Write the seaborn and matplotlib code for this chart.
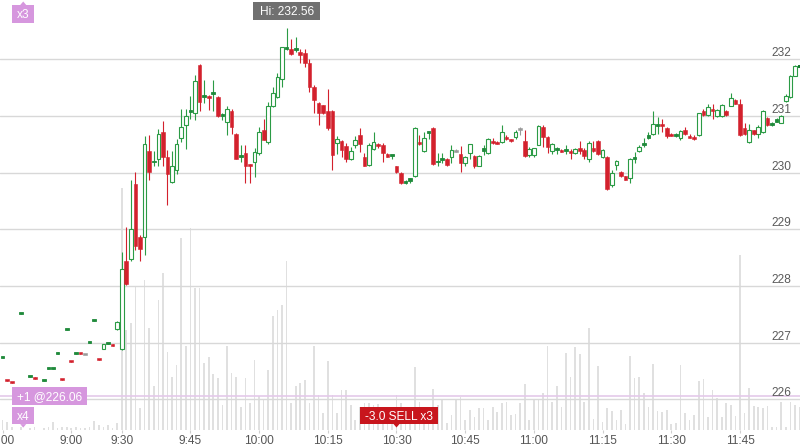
import matplotlib
matplotlib.use("Agg")
import matplotlib.pyplot as plt
import matplotlib.transforms as mtransforms
from matplotlib.patches import Rectangle, Polygon
import numpy as np
import pandas as pd
import seaborn as sns

# --- Data ---
# one slot per 1-minute bar; pre-market bars are sparse, 9:30 open is slot 0
bar_index = [-26, -25, -24, -22, -20, -19, -17, -16, -15, -14, -13, -12, -11,
             -10, -9, -8, -7, -6, -5, -4, -3, -2, -1] + list(range(0, 149))

opens = [226.74, 226.35, 226.31, 227.50, 226.39, 226.39, 226.32, 226.53, 226.53, 226.81, 226.37, 227.23, 226.68,
         226.80, 226.82, 226.81, 226.99, 227.39, 226.72, 226.89, 226.98, 226.97, 227.24,
         226.89, 228.45, 228.47, 229.80, 228.87, 228.86, 230.39, 230.18, 230.25, 230.72,
         230.28, 229.83, 230.05, 230.61, 230.84, 231.07, 231.06, 231.90, 231.33, 231.36,
         231.39, 231.33, 231.00, 230.90, 231.09, 230.69, 230.27, 230.34, 230.14, 230.19,
         230.35, 230.75, 230.55, 231.18, 231.34, 231.65, 232.18, 232.19, 232.17, 232.13,
         232.11, 231.93, 231.52, 231.23, 231.19, 231.09, 231.09, 230.52, 230.56, 230.47,
         230.24, 230.49, 230.66, 230.27, 230.14, 230.41, 230.51, 230.49, 230.33, 230.30,
         230.12, 230.00, 229.82, 229.86, 229.94, 230.52, 230.38, 230.70, 230.78, 230.18,
         230.23, 230.24, 230.27, 230.39, 230.33, 230.17, 230.34, 230.30, 230.12, 230.39,
         230.34, 230.56, 230.55, 230.55, 230.62, 230.59, 230.63, 230.77, 230.56, 230.31,
         230.31, 230.49, 230.81, 230.63, 230.38, 230.40, 230.40, 230.38, 230.37, 230.35,
         230.43, 230.40, 230.25, 230.43, 230.56, 230.27, 230.28, 229.78, 230.14, 230.02,
         229.94, 229.90, 230.24, 230.39, 230.49, 230.62, 230.68, 230.83, 230.86, 230.78,
         230.69, 230.65, 230.62, 230.75, 230.65, 230.62, 230.66, 231.08, 231.01, 231.11,
         231.00, 231.00, 231.08, 231.18, 231.29, 231.22, 230.78, 230.55, 230.75, 230.68,
         230.71, 230.96, 230.84, 230.90, 230.88, 231.27, 231.34, 231.71, 231.86]

highs = [226.75, 226.35, 226.31, 227.52, 226.41, 226.39, 226.34, 226.55, 226.55, 226.83, 226.37, 227.25, 226.68,
         226.82, 226.82, 226.81, 227.01, 227.41, 226.72, 226.97, 227.00, 226.97, 227.38,
         228.61, 229.04, 229.88, 230.01, 228.90, 230.65, 230.66, 230.39, 230.77, 230.92,
         230.40, 230.39, 230.59, 231.12, 231.12, 231.35, 231.72, 231.92, 231.63, 231.37,
         231.63, 231.35, 231.05, 231.18, 231.12, 230.70, 230.49, 230.49, 230.16, 230.43,
         230.81, 230.94, 231.25, 231.52, 231.75, 232.22, 232.56, 232.35, 232.40, 232.18,
         232.18, 232.00, 231.55, 231.25, 231.20, 231.47, 231.10, 230.65, 230.58, 230.53,
         230.45, 230.65, 230.78, 230.35, 230.52, 230.71, 230.53, 230.53, 230.34, 230.32,
         230.12, 230.01, 229.87, 229.91, 230.80, 230.67, 230.71, 230.72, 230.81, 230.34,
         230.34, 230.26, 230.49, 230.41, 230.47, 230.29, 230.50, 230.31, 230.31, 230.49,
         230.61, 230.62, 230.56, 230.85, 230.67, 230.60, 230.75, 230.80, 230.75, 230.45,
         230.43, 230.84, 230.84, 230.65, 230.52, 230.46, 230.41, 230.48, 230.42, 230.43,
         230.56, 230.43, 230.56, 230.56, 230.58, 230.41, 230.29, 230.05, 230.23, 230.03,
         229.95, 230.26, 230.36, 230.48, 230.62, 230.71, 231.08, 230.98, 230.95, 230.80,
         230.70, 230.70, 230.75, 230.80, 230.69, 230.66, 231.06, 231.12, 231.22, 231.22,
         231.12, 231.22, 231.10, 231.41, 231.30, 231.30, 230.88, 230.86, 230.76, 230.84,
         231.10, 230.99, 230.89, 230.96, 231.02, 231.38, 231.72, 231.90, 231.92]

lows = [226.74, 226.33, 226.29, 227.50, 226.39, 226.37, 226.32, 226.53, 226.53, 226.81, 226.35, 227.23, 226.66,
        226.80, 226.80, 226.81, 226.99, 227.39, 226.70, 226.89, 226.98, 226.95, 227.23,
        226.88, 228.02, 228.45, 228.64, 228.45, 228.55, 229.88, 230.11, 230.11, 230.11,
        229.43, 229.81, 229.97, 230.55, 230.41, 230.94, 230.93, 231.09, 231.23, 231.11,
        231.09, 230.99, 230.93, 230.66, 230.69, 230.24, 230.19, 229.81, 229.82, 229.93,
        230.31, 230.57, 230.51, 231.16, 231.31, 231.52, 232.16, 232.08, 232.13, 231.93,
        231.86, 231.43, 231.05, 230.84, 231.03, 230.75, 230.05, 230.33, 230.27, 230.19,
        230.23, 230.43, 230.37, 230.11, 230.11, 230.40, 230.43, 230.19, 230.27, 230.25,
        229.99, 229.80, 229.80, 229.81, 229.93, 230.49, 230.37, 230.59, 230.13, 230.11,
        230.17, 230.12, 230.17, 230.37, 230.02, 230.11, 230.24, 230.08, 230.11, 230.31,
        230.33, 230.50, 230.50, 230.53, 230.57, 230.55, 230.60, 230.66, 230.28, 230.28,
        230.28, 230.48, 230.46, 230.35, 230.33, 230.33, 230.36, 230.33, 230.24, 230.33,
        230.33, 230.24, 230.19, 230.37, 230.31, 230.26, 229.70, 229.75, 230.04, 229.93,
        229.87, 229.81, 230.17, 230.37, 230.46, 230.60, 230.66, 230.68, 230.72, 230.62,
        230.64, 230.63, 230.58, 230.66, 230.61, 230.58, 230.64, 231.00, 231.00, 230.95,
        230.99, 230.99, 231.00, 231.17, 231.21, 230.64, 230.66, 230.53, 230.66, 230.62,
        230.70, 230.82, 230.82, 230.89, 230.87, 231.25, 231.32, 231.70, 231.85]

closes = [226.76, 226.33, 226.29, 227.52, 226.41, 226.37, 226.34, 226.55, 226.55, 226.83, 226.35, 227.25, 226.66,
          226.82, 226.80, 226.81, 227.01, 227.41, 226.70, 226.97, 227.00, 226.95, 227.36,
          228.31, 228.04, 229.01, 228.71, 228.66, 230.50, 230.02, 230.20, 230.69, 230.27,
          229.98, 230.11, 230.50, 230.81, 231.00, 231.09, 231.62, 231.25, 231.35, 231.32,
          231.41, 231.00, 231.04, 231.12, 230.80, 230.25, 230.29, 230.11, 230.12, 230.36,
          230.71, 230.58, 231.18, 231.40, 231.69, 232.21, 232.20, 232.09, 232.19, 232.08,
          231.93, 231.52, 231.28, 231.05, 231.05, 230.78, 230.31, 230.60, 230.40, 230.24,
          230.38, 230.58, 230.50, 230.12, 230.49, 230.55, 230.47, 230.34, 230.28, 230.32,
          230.02, 229.81, 229.86, 229.90, 230.79, 230.50, 230.62, 230.71, 230.15, 230.20,
          230.25, 230.13, 230.40, 230.39, 230.17, 230.28, 230.50, 230.11, 230.29, 230.43,
          230.59, 230.52, 230.51, 230.72, 230.59, 230.56, 230.72, 230.77, 230.29, 230.41,
          230.43, 230.82, 230.63, 230.46, 230.50, 230.44, 230.37, 230.42, 230.34, 230.41,
          230.38, 230.29, 230.53, 230.38, 230.33, 230.40, 229.72, 230.00, 230.21, 229.94,
          229.88, 230.24, 230.27, 230.46, 230.52, 230.66, 230.86, 230.86, 230.83, 230.65,
          230.65, 230.69, 230.74, 230.69, 230.62, 230.59, 231.05, 231.01, 231.16, 231.08,
          231.11, 231.19, 231.02, 231.32, 231.22, 230.66, 230.68, 230.76, 230.69, 230.80,
          231.09, 230.84, 230.86, 230.94, 231.00, 231.35, 231.71, 231.88, 231.90]

volume_k = [10, 8, 3, 3, 2, 3, 2, 3, 8, 2, 3, 3, 2, 3, 2, 2, 3, 9, 5, 3, 5, 2, 7,
            242, 100, 107, 143, 22, 150, 102, 44, 130, 157, 78, 53, 65, 192, 84, 202,
            142, 142, 67, 73, 56, 52, 25, 84, 57, 53, 23, 52, 27, 70, 34, 30, 60, 114,
            120, 125, 169, 27, 44, 47, 50, 27, 84, 35, 17, 69, 35, 17, 40, 40, 25, 10,
            23, 27, 27, 25, 26, 10, 10, 23, 35, 27, 10, 23, 63, 28, 18, 10, 41, 25, 30,
            7, 15, 30, 33, 10, 20, 13, 22, 22, 10, 23, 18, 27, 28, 15, 16, 27, 46, 10,
            30, 30, 37, 84, 28, 44, 23, 77, 53, 83, 76, 28, 102, 11, 64, 8, 22, 19, 10,
            20, 6, 74, 52, 53, 37, 23, 66, 19, 18, 20, 6, 7, 65, 17, 10, 15, 49, 51, 13,
            40, 32, 13, 27, 25, 14, 175, 17, 42, 24, 23, 22, 24, 3, 3, 28, 3, 28, 25, 23]

price_ticks = [226, 227, 228, 229, 230, 231, 232]
time_tick_index = [-26, -11, 0, 15, 30, 45, 60, 75, 90, 105, 120, 135]
time_tick_labels = ["8:00", "9:00", "9:30", "9:45", "10:00", "10:15", "10:30",
                    "10:45", "11:00", "11:15", "11:30", "11:45"]

position_price = 226.06
session_high = 232.56

# --- Style ---
GREEN = "#2b9b45"
GREEN_DARK = "#1f8a3b"
RED = "#d3212d"
FLAT = "#9a9a9a"
LIVE = "#137a2e"
TAG_PURPLE = "#d697de"
TAG_RED = "#c8161d"
TAG_GRAY = "#707070"
W, H = 800, 447

sns.set_theme(style="white")
plt.rcParams["font.family"] = ["Liberation Sans", "DejaVu Sans"]
FS = 8.6

df = pd.DataFrame({"idx": bar_index, "open": opens, "high": highs,
                   "low": lows, "close": closes, "volume": volume_k})

fig = plt.figure(figsize=(W / 100, H / 100), dpi=100)
fig.patch.set_facecolor("white")
axv = fig.add_axes([0, 17 / H, 1, 430 / H])

# volume bars (behind the candles)
sns.barplot(data=df, x="idx", y="volume", native_scale=True, width=0.36,
            color="#e0e0e0", saturation=1, linewidth=0, errorbar=None, ax=axv)
axv.set_ylim(0, 430)

# price axis on top
axp = axv.twinx()
for v in price_ticks:
    axp.axhline(v, color="#d8d8d8", lw=1.0, zorder=0)
axp.axhline(position_price, color="#e4c9ea", lw=1.2, zorder=0.5)

up = df["close"] > df["open"]
down = df["close"] < df["open"]
flat = ~(up | down)
wick_colors = np.where(up, GREEN, np.where(down, RED, FLAT))
axp.vlines(df["idx"], df["low"], df["high"], colors=wick_colors, lw=0.8, zorder=2)

MIN_BODY = 0.035
raw_height = (df["close"] - df["open"]).abs()
body_bottom = df[["open", "close"]].min(axis=1)
body_height = raw_height.clip(lower=MIN_BODY)
# tiny up-bars read as solid dashes, larger ones are hollow
tiny_up = up & (raw_height < 0.05)
big_up = up & ~tiny_up
axp.bar(df["idx"][big_up], body_height[big_up], bottom=body_bottom[big_up], width=0.8,
        facecolor="white", edgecolor=GREEN, linewidth=0.8, zorder=3)
axp.bar(df["idx"][tiny_up], body_height[tiny_up], bottom=body_bottom[tiny_up], width=0.8,
        facecolor=GREEN_DARK, edgecolor=GREEN_DARK, linewidth=0.6, zorder=3)
axp.bar(df["idx"][down], body_height[down], bottom=body_bottom[down], width=0.8,
        facecolor=RED, edgecolor=RED, linewidth=0.4, zorder=3)
axp.bar(df["idx"][flat], body_height[flat], bottom=body_bottom[flat] - MIN_BODY / 2,
        width=0.8, facecolor=FLAT, edgecolor=FLAT, linewidth=0.4, zorder=3)
last = df.iloc[-1]
axp.bar([last["idx"]], [max(last["close"] - last["open"], MIN_BODY)], bottom=[last["open"]],
        width=0.8, facecolor=LIVE, edgecolor=LIVE, linewidth=0.6, zorder=4)

axv.set_xlim(-26.57, 148.1)
axp.set_ylim(225.462, 233.046)

# axes cosmetics
for a in (axv, axp):
    for s in a.spines.values():
        s.set_visible(False)
    a.set_yticks([])
    a.set_ylabel("")
axv.set_xlabel("")
axv.set_xticks(time_tick_index)
axv.set_xticklabels(time_tick_labels)
axv.tick_params(axis="x", bottom=True, length=2, width=0.8, color="#cfcfcf",
                pad=1.6, labelsize=FS, labelcolor="#555555")

# price labels sit just above their gridlines, at the right edge
lab_trans = mtransforms.offset_copy(
    mtransforms.blended_transform_factory(axp.transAxes, axp.transData),
    fig=fig, y=3.2, units="dots")
for v in price_ticks:
    axp.text(791.5 / W, v, f"{v}", transform=lab_trans, ha="right", va="baseline",
             fontsize=FS, color="#5a5a5a", zorder=5)

# --- tags, laid out in pixels ---
pix = mtransforms.Affine2D().scale(1 / W, 1 / H) + fig.transFigure


def px_of(i):
    return axv.transData.transform((i, 0))[0]


def add_tag(cx, y0, w, h, label, color, notch=None, notch_x=None):
    fig.add_artist(Rectangle((cx - w / 2, y0), w, h, transform=pix,
                             facecolor=color, edgecolor="none", zorder=6))
    nx = cx if notch_x is None else notch_x
    if notch == "up":
        tri = [(nx - 3, y0 + h), (nx + 3, y0 + h), (nx, y0 + h + 3.5)]
    elif notch == "down":
        tri = [(nx - 3, y0), (nx + 3, y0), (nx, y0 - 3.5)]
    else:
        tri = None
    if tri:
        fig.add_artist(Polygon(tri, closed=True, transform=pix,
                               facecolor=color, edgecolor="none", zorder=6))
    fig.text(cx, y0 + (h - 8.5) / 2, label, transform=pix, ha="center",
             va="baseline", color="white", fontsize=FS, zorder=7)


hi_idx = df.loc[df["high"].idxmax(), "idx"]
add_tag(px_of(hi_idx), H - 1.7 - 18.3, 67.3, 18.3, f"Hi: {session_high:.2f}", TAG_GRAY)
add_tag(px_of(-21.5), H - 5 - 17.7, 21.7, 17.7, "x3", TAG_PURPLE, notch="up")
add_tag(px_of(-21.5), H - 406.7 - 17.4, 21.7, 17.4, "x4", TAG_PURPLE, notch="down")
y_pos = axp.transData.transform((0, position_price))[1]
add_tag(12.3 + 37.5, y_pos - 8.85, 75, 17.7, f"+1 @{position_price:.2f}", TAG_PURPLE)
add_tag(px_of(60) + 2.5, H - 407.3 - 16.7, 78.3, 16.7, "-3.0 SELL x3", TAG_RED,
        notch="down", notch_x=px_of(60))

fig.savefig("out.png", dpi=100)
